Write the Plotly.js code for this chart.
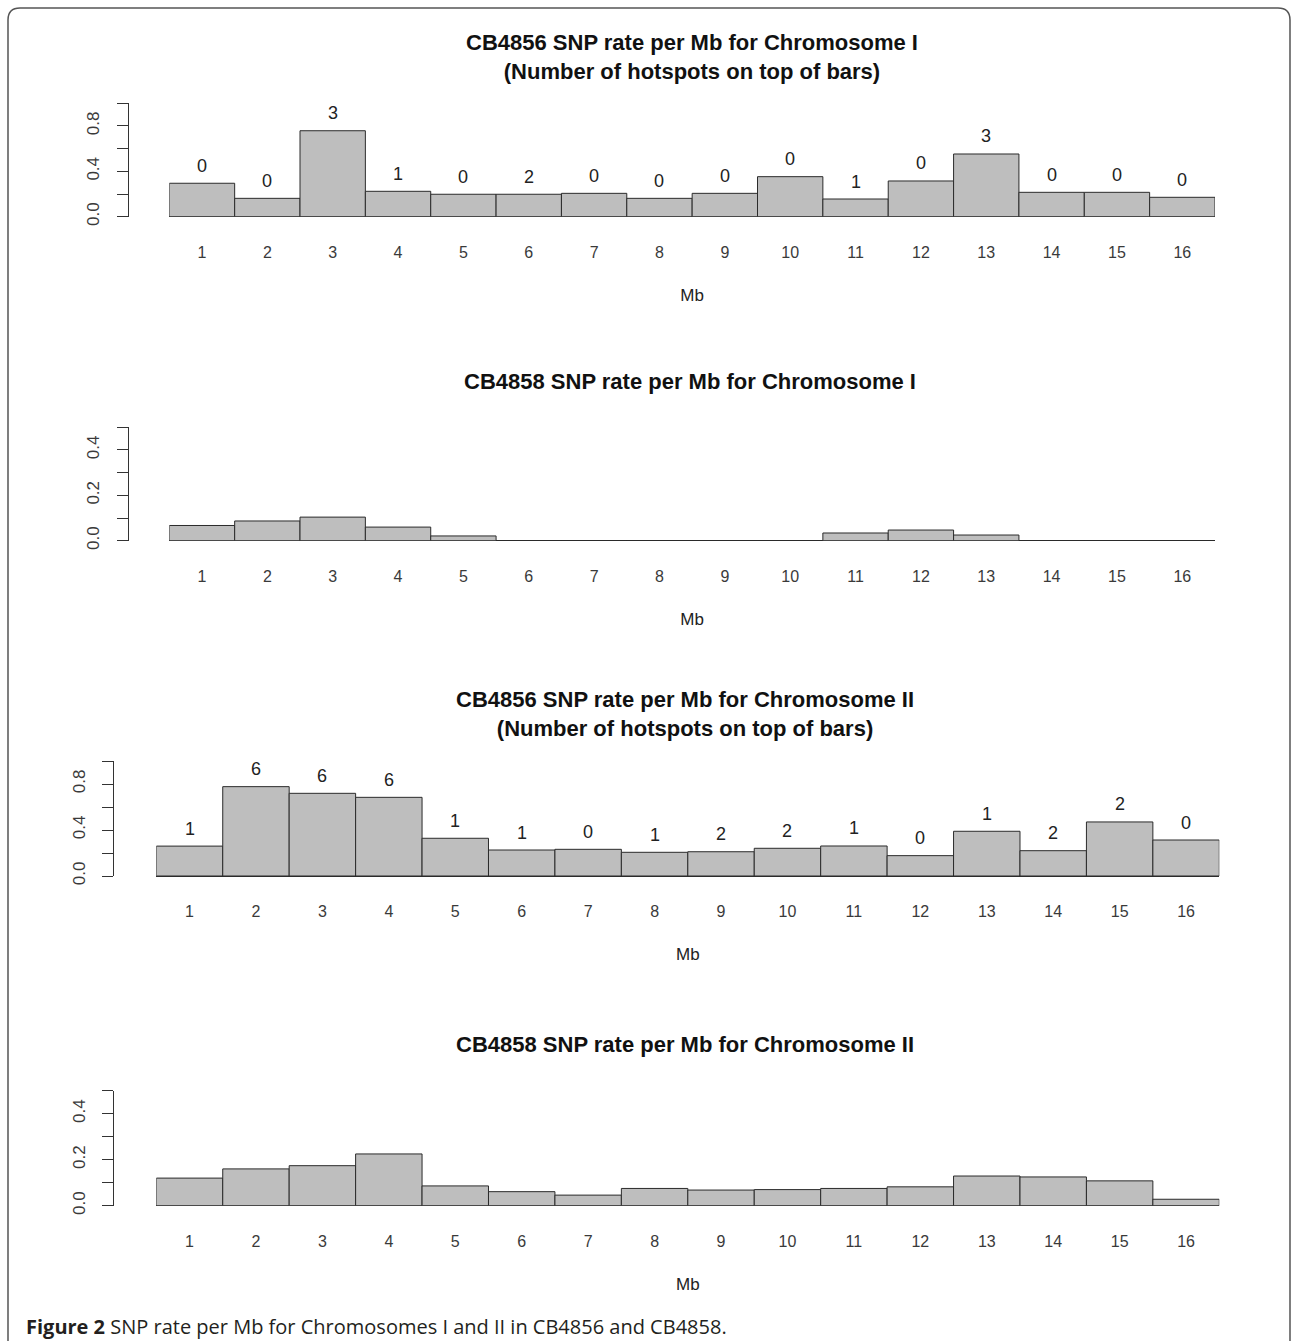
<!DOCTYPE html>
<html><head><meta charset="utf-8">
<script src="https://cdn.plot.ly/plotly-3.0.1.min.js"></script>
<style>html,body{margin:0;padding:0;background:#fff;}#chart{width:1292px;height:1341px;}</style>
</head><body><div id="chart"></div>
<script>
// ---- data ----
const mb = [1,2,3,4,5,6,7,8,9,10,11,12,13,14,15,16];
const mbLabels = ['1','2','3','4','5','6','7','8','9','10','11','12','13','14','15','16'];
const cb4856ChrI = [0.295,0.162,0.758,0.224,0.198,0.198,0.206,0.162,0.206,0.353,0.156,0.315,0.553,0.215,0.215,0.171];
const hotspotsChrI = [0,0,3,1,0,2,0,0,0,0,1,0,3,0,0,0];
const cb4858ChrI = [0.067,0.087,0.104,0.060,0.021,0,0,0,0,0,0.034,0.047,0.025,0,0,0];
const cb4856ChrII = [0.260,0.777,0.719,0.684,0.328,0.226,0.232,0.206,0.211,0.241,0.261,0.177,0.389,0.220,0.470,0.313];
const hotspotsChrII = [1,6,6,6,1,1,0,1,2,2,1,0,1,2,2,0];
const cb4858ChrII = [0.120,0.160,0.174,0.225,0.086,0.061,0.046,0.075,0.068,0.070,0.075,0.082,0.129,0.125,0.108,0.028];
const yTicksHigh = [0,0.2,0.4,0.6,0.8,1.0];
const yLabelsHigh = ['0.0','','0.4','','0.8',''];
const yTicksLow = [0,0.1,0.2,0.3,0.4,0.5];
const yLabelsLow = ['0.0','','0.2','','0.4',''];
const titles = [
  'CB4856 SNP rate per Mb for Chromosome I<br>(Number of hotspots on top of bars)',
  'CB4858 SNP rate per Mb for Chromosome I',
  'CB4856 SNP rate per Mb for Chromosome II<br>(Number of hotspots on top of bars)',
  'CB4858 SNP rate per Mb for Chromosome II'
];
const xTitle = 'Mb';
const caption = '<b>Figure 2</b> SNP rate per Mb for Chromosomes I and II in CB4856 and CB4858.';

// ---- layout helpers ----
const W = 1292, H = 1341;
const px = x => x / W;
const py = y => 1 - y / H;
const FONT = 'Liberation Sans, Arial, Helvetica, sans-serif';

const panels = [
  {vals: cb4856ChrI, hot: hotspotsChrI, xd: [169.3, 1215], yd: [103.3, 216.7], yr: [0, 1], tv: yTicksHigh, tt: yLabelsHigh, ax: 127.7, tx: 692, ty: 56.5},
  {vals: cb4858ChrI, hot: null, xd: [169.3, 1215], yd: [427.3, 540.7], yr: [0, 0.5], tv: yTicksLow, tt: yLabelsLow, ax: 127.7, tx: 690, ty: 381},
  {vals: cb4856ChrII, hot: hotspotsChrII, xd: [156.3, 1219.3], yd: [761, 876], yr: [0, 1], tv: yTicksHigh, tt: yLabelsHigh, ax: 113.3, tx: 685, ty: 713.5},
  {vals: cb4858ChrII, hot: null, xd: [156.3, 1219.3], yd: [1090.7, 1205.7], yr: [0, 0.5], tv: yTicksLow, tt: yLabelsLow, ax: 113.3, tx: 685, ty: 1044}
];

const data = [];
const layout = {
  width: W, height: H,
  margin: {l: 0, r: 0, t: 0, b: 0},
  paper_bgcolor: '#fff', plot_bgcolor: 'rgba(0,0,0,0)',
  showlegend: false, bargap: 0,
  font: {family: FONT, color: '#222'},
  annotations: [], shapes: []
};

panels.forEach((p, i) => {
  const n = i === 0 ? '' : String(i + 1);
  data.push({
    type: 'bar', x: mb, y: p.vals, width: 1,
    xaxis: 'x' + n, yaxis: 'y' + n,
    marker: {color: '#bebebe', line: {color: '#2b2b2b', width: 1}},
    cliponaxis: false, hoverinfo: 'skip'
  });
  layout['xaxis' + n] = {
    domain: [px(p.xd[0]), px(p.xd[1])], range: [0.5, 16.5], anchor: 'y' + n,
    showgrid: false, zeroline: false, showline: false, ticks: '',
    tickmode: 'array', tickvals: mb, ticktext: mbLabels,
    tickfont: {family: FONT, size: 16, color: '#3a3a3a'}, ticklabelstandoff: 24,
    title: {text: xTitle, font: {family: FONT, size: 17, color: '#222'}, standoff: 29},
    fixedrange: true
  };
  layout['yaxis' + n] = {
    domain: [py(p.yd[1]), py(p.yd[0])], range: p.yr, anchor: 'free', position: px(p.ax),
    showgrid: false, showline: true, linecolor: '#333', linewidth: 1,
    ticks: 'outside', ticklen: 11, tickwidth: 1, tickcolor: '#333',
    tickmode: 'array', tickvals: p.tv, ticktext: p.tt, tickangle: -90,
    tickfont: {family: FONT, size: 17, color: '#3a3a3a'}, ticklabelstandoff: 11,
    zeroline: true, zerolinecolor: '#2b2b2b', zerolinewidth: 1,
    fixedrange: true
  };
  layout.annotations.push({
    xref: 'paper', yref: 'paper', x: px(p.tx), y: py(p.ty), xanchor: 'center', yanchor: 'middle',
    text: '<b>' + titles[i] + '</b>', showarrow: false, font: {family: FONT, size: 22, color: '#111'}
  });
  if (p.hot) {
    p.hot.forEach((h, k) => {
      layout.annotations.push({
        xref: 'x' + n, yref: 'y' + n, x: mb[k], y: p.vals[k], yshift: 17.5,
        xanchor: 'center', yanchor: 'middle', text: String(h), showarrow: false,
        font: {family: FONT, size: 18, color: '#222'}
      });
    });
  }
});

layout.annotations.push({
  xref: 'paper', yref: 'paper', x: px(24), y: py(1326), xanchor: 'left', yanchor: 'middle',
  text: caption, showarrow: false, font: {family: 'Open Sans, Noto Sans, sans-serif', size: 20, color: '#231f20'}
});

// rounded figure frame (open at bottom)
const r = 12, L = 8, R = 1290, T = 8, B = 1350;
const P = (x, y) => px(x).toFixed(5) + ',' + py(y).toFixed(5);
layout.shapes.push({
  type: 'path', xref: 'paper', yref: 'paper', layer: 'above',
  path: 'M' + P(L, B) + ' L' + P(L, T + r) + ' Q' + P(L, T) + ' ' + P(L + r, T) +
        ' L' + P(R - r, T) + ' Q' + P(R, T) + ' ' + P(R, T + r) + ' L' + P(R, B),
  line: {color: '#555', width: 1.5}
});

Plotly.newPlot('chart', data, layout, {staticPlot: true});
</script></body></html>
